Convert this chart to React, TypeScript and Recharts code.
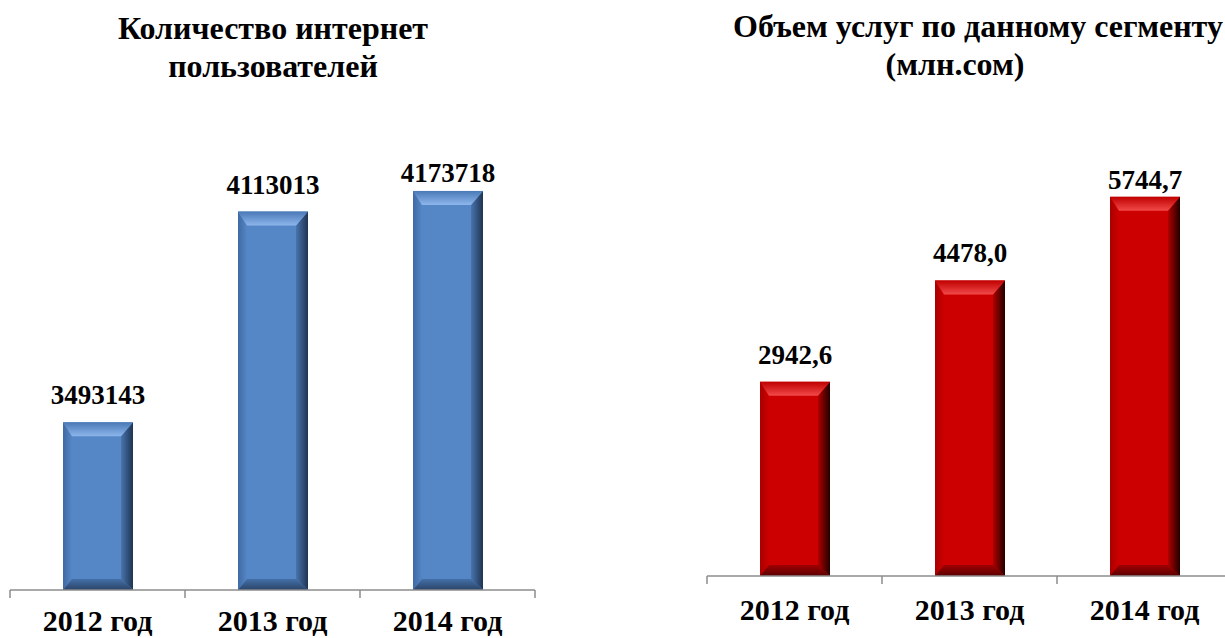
import React from 'react';
import { BarChart, Bar, XAxis, YAxis, LabelList } from 'recharts';

const years = ['2012 год', '2013 год', '2014 год'];
const users = [3493143, 4113013, 4173718];
const volume = [2942.6, 4478.0, 5744.7];

const usersData = years.map((y, i) => ({ year: y, value: users[i] }));
const volumeData = years.map((y, i) => ({ year: y, value: volume[i] }));

const FONT = '"Liberation Serif", "Times New Roman", serif';

type Palette = {
  id: string;
  face: string;
  topOuter: string;
  topInner: string;
  leftOuter: string;
  rightInner: string;
  rightOuter: string;
  bottomInner: string;
  bottomOuter: string;
};

const bluePal: Palette = {
  id: 'blue',
  face: '#5586c6',
  topOuter: '#4a79b6',
  topInner: '#8db6ec',
  leftOuter: '#3f6aa2',
  rightInner: '#4874ad',
  rightOuter: '#1f3452',
  bottomInner: '#4470a8',
  bottomOuter: '#2a4468',
};

const redPal: Palette = {
  id: 'red',
  face: '#cc0000',
  topOuter: '#c00000',
  topInner: '#f24a4a',
  leftOuter: '#a80000',
  rightInner: '#b00000',
  rightOuter: '#220000',
  bottomInner: '#a00000',
  bottomOuter: '#5a0000',
};

const Defs = ({ p }: { p: Palette }) => (
  <defs>
    <linearGradient id={`${p.id}-top`} x1="0" y1="0" x2="0" y2="1">
      <stop offset="0" stopColor={p.topOuter} />
      <stop offset="1" stopColor={p.topInner} />
    </linearGradient>
    <linearGradient id={`${p.id}-right`} x1="0" y1="0" x2="1" y2="0">
      <stop offset="0" stopColor={p.rightInner} />
      <stop offset="1" stopColor={p.rightOuter} />
    </linearGradient>
    <linearGradient id={`${p.id}-bottom`} x1="0" y1="0" x2="0" y2="1">
      <stop offset="0" stopColor={p.bottomInner} />
      <stop offset="1" stopColor={p.bottomOuter} />
    </linearGradient>
    <linearGradient id={`${p.id}-left`} x1="0" y1="0" x2="1" y2="0">
      <stop offset="0" stopColor={p.leftOuter} />
      <stop offset="1" stopColor={p.face} />
    </linearGradient>
  </defs>
);

const makeShape = (p: Palette) => (props: any) => {
  const { x, y, width: w, height: h } = props;
  if (!w || !h) return null;
  const bt = 14;
  const bs = 12;
  const bb = 11;
  const bl = 9;
  return (
    <g>
      <rect x={x} y={y} width={w} height={h} fill={p.face} />
      <polygon
        points={`${x},${y + h} ${x + bl},${y + h - bb} ${x + bl},${y + bt} ${x},${y}`}
        fill={`url(#${p.id}-left)`}
      />
      <polygon
        points={`${x + w},${y} ${x + w},${y + h} ${x + w - bs},${y + h - bb} ${x + w - bs},${y + bt}`}
        fill={`url(#${p.id}-right)`}
      />
      <polygon
        points={`${x},${y + h} ${x + w},${y + h} ${x + w - bs},${y + h - bb} ${x + bl},${y + h - bb}`}
        fill={`url(#${p.id}-bottom)`}
      />
      <polygon
        points={`${x},${y} ${x + w},${y} ${x + w - bs},${y + bt} ${x + bl},${y + bt}`}
        fill={`url(#${p.id}-top)`}
      />
    </g>
  );
};

const makeLabel = (fmt: (v: number) => string, offset: number, minBaseline: number) => (props: any) => {
  const { x, y, width, value } = props;
  const by = Math.max(y - offset, minBaseline);
  return (
    <text
      x={x + width / 2}
      y={by}
      textAnchor="middle"
      fontFamily={FONT}
      fontWeight="bold"
      fontSize={27}
      fill="#000"
    >
      {fmt(value)}
    </text>
  );
};

const makeTick = (halfBand: number, count: number, textDy: number) => (props: any) => {
  const { x, y, payload, index } = props;
  return (
    <g>
      <line x1={x - halfBand} y1={y} x2={x - halfBand} y2={y + 8} stroke="#8c8c8c" strokeWidth={1.5} />
      {index === count - 1 && (
        <line x1={x + halfBand} y1={y} x2={x + halfBand} y2={y + 8} stroke="#8c8c8c" strokeWidth={1.5} />
      )}
      <text
        x={x}
        y={y + textDy}
        textAnchor="middle"
        fontFamily={FONT}
        fontWeight="bold"
        fontSize={30}
        fill="#000"
      >
        {payload.value}
      </text>
    </g>
  );
};

const CH_W = 560;
const MARGIN_L = 10;
const MARGIN_R = 25;
const HALF_BAND = (CH_W - MARGIN_L - MARGIN_R) / years.length / 2;

const titleStyle = {
  fontFamily: FONT,
  fontWeight: 'bold' as const,
  fontSize: 32,
  fill: '#000',
};

export default function App() {
  return (
    <div
      style={{
        position: 'fixed',
        left: 0,
        top: 0,
        width: 1225,
        height: 638,
        overflow: 'hidden',
        background: '#fff',
      }}
    >
      <svg width={1225} height={638} style={{ position: 'absolute', left: 0, top: 0 }}>
        <text x={273} y={39} textAnchor="middle" {...titleStyle}>Количество интернет</text>
        <text x={273} y={77} textAnchor="middle" {...titleStyle}>пользователей</text>
        <text x={978} y={37} textAnchor="middle" {...titleStyle}>Объем услуг по данному сегменту</text>
        <text x={955} y={75} textAnchor="middle" {...titleStyle}>(млн.сом)</text>
      </svg>

      <div style={{ position: 'absolute', left: 0, top: 0 }}>
        <BarChart
          width={CH_W}
          height={638}
          data={usersData}
          margin={{ top: 80, right: MARGIN_R, bottom: 0, left: MARGIN_L }}
          barCategoryGap={0}
        >
          <Defs p={bluePal} />
          <YAxis hide domain={[3000000, 4500000]} allowDataOverflow />
          <XAxis
            dataKey="year"
            height={48}
            tickLine={false}
            tickSize={0}
            tickMargin={0}
            axisLine={{ stroke: '#8c8c8c', strokeWidth: 1.5 }}
            tick={makeTick(HALF_BAND, years.length, 41)}
            interval={0}
          />
          <Bar
            dataKey="value"
            barSize={70}
            isAnimationActive={false}
            shape={makeShape(bluePal)}
          >
            <LabelList dataKey="value" content={makeLabel((v) => String(v), 18, 182)} />
          </Bar>
        </BarChart>
      </div>

      <div style={{ position: 'absolute', left: 697, top: 0 }}>
        <BarChart
          width={CH_W}
          height={638}
          data={volumeData}
          margin={{ top: 114, right: MARGIN_R, bottom: 0, left: MARGIN_L }}
          barCategoryGap={0}
        >
          <Defs p={redPal} />
          <YAxis hide domain={[0, 7000]} allowDataOverflow />
          <XAxis
            dataKey="year"
            height={62}
            tickLine={false}
            tickSize={0}
            tickMargin={0}
            axisLine={{ stroke: '#8c8c8c', strokeWidth: 1.5 }}
            tick={makeTick(HALF_BAND, years.length, 44)}
            interval={0}
          />
          <Bar
            dataKey="value"
            barSize={70}
            isAnimationActive={false}
            shape={makeShape(redPal)}
          >
            <LabelList
              dataKey="value"
              content={makeLabel((v) => v.toFixed(1).replace('.', ','), 18, 189)}
            />
          </Bar>
        </BarChart>
      </div>
    </div>
  );
}
